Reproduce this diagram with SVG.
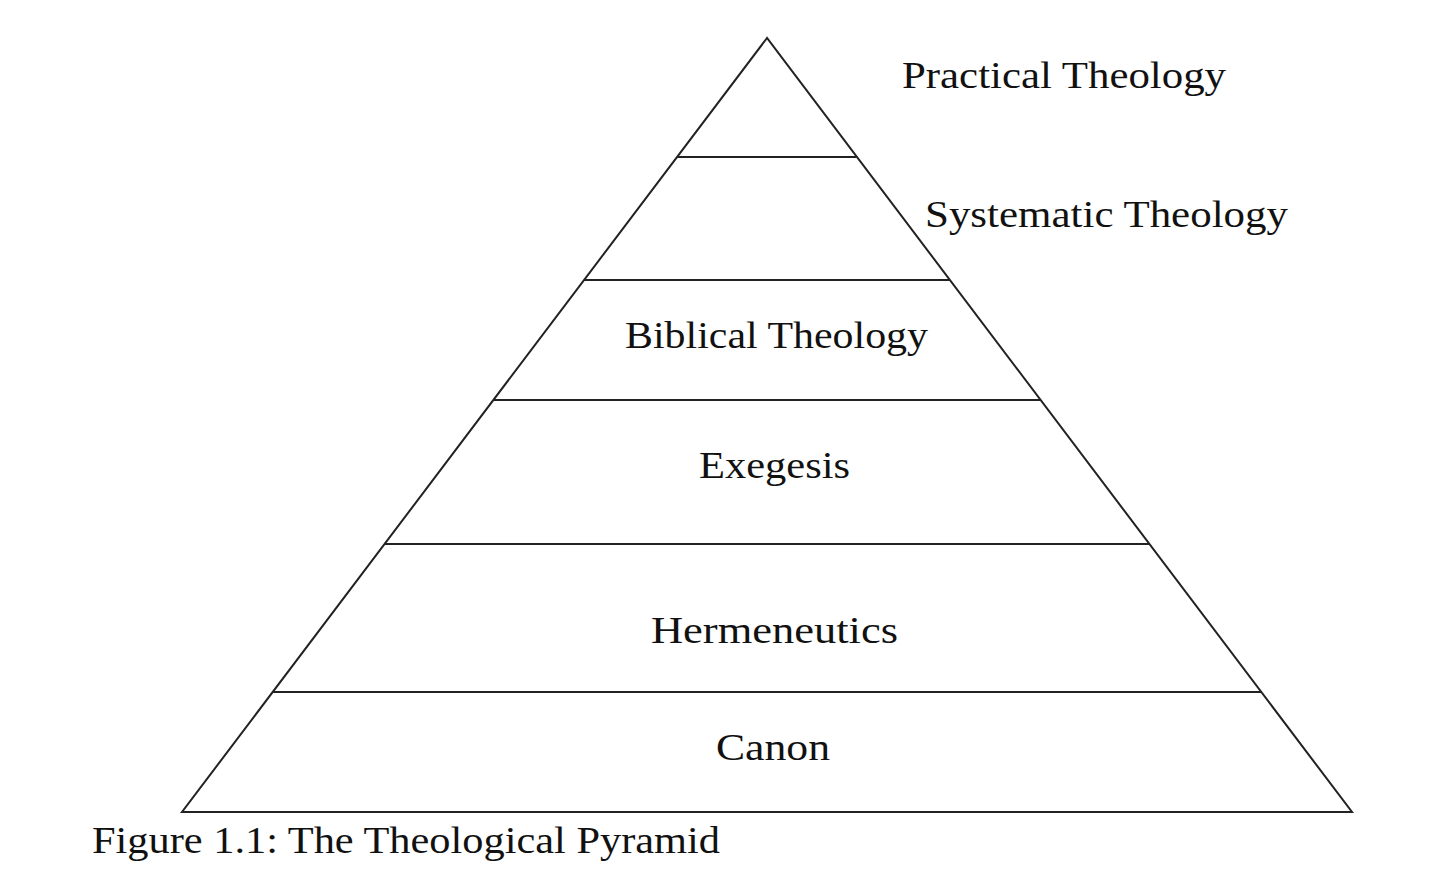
<svg xmlns="http://www.w3.org/2000/svg" width="1440" height="892" viewBox="0 0 1440 892">
<style>
text{font-family:"Liberation Serif","DejaVu Serif",serif;font-size:38px;fill:#111}
.l{stroke:#222;stroke-width:2;fill:none}
</style>
<rect width="1440" height="892" fill="#fff"/>
<g id="pyramid">
<polygon class="l" points="767,38 182,812 1352,812"/>
</g>
<g id="connectors">
<line class="l" x1="677" y1="157" x2="857" y2="157"/>
<line class="l" x1="584" y1="280" x2="950" y2="280"/>
<line class="l" x1="493" y1="400" x2="1041" y2="400"/>
<line class="l" x1="385" y1="544" x2="1149" y2="544"/>
<line class="l" x1="273" y1="692" x2="1261" y2="692"/>
</g>
<g id="practical"><text x="902" y="88" textLength="324" lengthAdjust="spacingAndGlyphs">Practical Theology</text></g>
<g id="systematic"><text x="925" y="227" textLength="363" lengthAdjust="spacingAndGlyphs">Systematic Theology</text></g>
<g id="biblical"><text x="625" y="348" textLength="303" lengthAdjust="spacingAndGlyphs">Biblical Theology</text></g>
<g id="exegesis"><text x="699" y="478" textLength="151" lengthAdjust="spacingAndGlyphs">Exegesis</text></g>
<g id="hermeneutics"><text x="651" y="643" textLength="247" lengthAdjust="spacingAndGlyphs">Hermeneutics</text></g>
<g id="canon"><text x="716" y="760" textLength="114" lengthAdjust="spacingAndGlyphs">Canon</text></g>
<g id="caption"><text x="92" y="853" textLength="628" lengthAdjust="spacingAndGlyphs">Figure 1.1: The Theological Pyramid</text></g>
</svg>
